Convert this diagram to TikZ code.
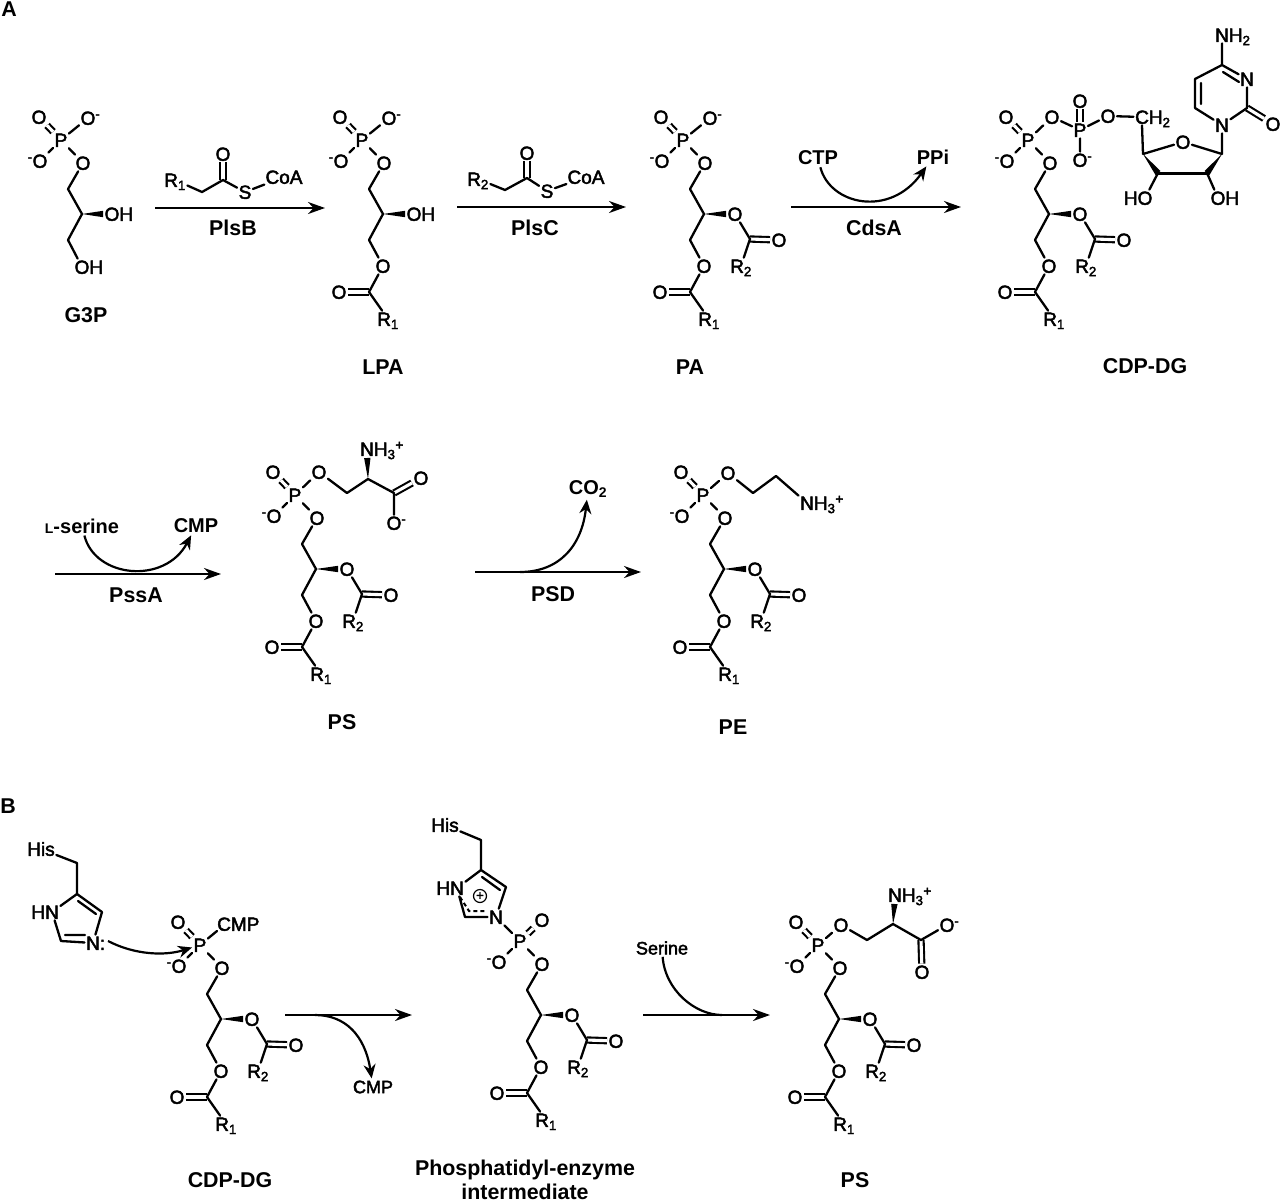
\documentclass[tikz,border=0pt]{standalone}
\usepackage{fontspec}
\setmainfont{Liberation Sans}
\newfontfamily\atomfont[FakeBold=2.5]{Liberation Sans}
\usetikzlibrary{arrows.meta,calc}
\tikzset{x=1pt,y=-1pt,
    bond/.style={line width=2.3pt,line cap=round,line join=round},
    dbond/.style={line width=2.1pt,double,double distance=3.1pt},
    atom/.style={inner sep=1.4pt,text height=13.6pt,text depth=0pt,font=\atomfont\fontsize{19}{22}\selectfont},
    lab/.style={inner sep=1pt,align=center,font=\fontsize{21.4}{24.5}\selectfont\bfseries},
    reag/.style={inner sep=2pt,font=\fontsize{20}{24}\selectfont\bfseries},
    rxn/.style={line width=2.2pt,-{Stealth[length=17pt,width=12pt]}},
    curv/.style={line width=2.2pt,-{Stealth[length=14pt,width=12pt]}},
    }
\newcommand{\wedgebond}[3][0pt]{\fill ($(#2)$) -- ($($(#3)!#1!(#2)$)!3.2pt!90:(#2)$) -- ($($(#3)!#1!(#2)$)!3.2pt!-90:(#2)$) -- cycle;}
\newcommand{\Omin}{O\rlap{\textsuperscript{-}}}
\newcommand{\minO}{\llap{\textsuperscript{-}}O}
\newcommand{\Rone}{R\textsubscript{1}}
\newcommand{\Rtwo}{R\textsubscript{2}}
% phosphate and glycerol
\newcommand{\glycbone}[1][-22,-23]{
    \node[atom] (P) at (0,0) {P};
    \node[atom] (Oa) at (#1) {O};
    \node[atom] (Ob) at (-21,21) {\minO};
    \node[atom] (Oc) at (22,23) {O};
    \coordinate (C1) at (7,49);
    \coordinate (C2) at (21,74);
    \coordinate (C3) at (7,100);
    \draw[dbond] (P) -- (Oa);
    \draw[bond] (P) -- (Ob) (P) -- (Oc) (Oc) -- (C1) -- (C2) -- (C3);
}
\newcommand{\acylone}{
    \node[atom] (Od) at (21,126) {O};
    \coordinate (Ce) at (7,152);
    \node[atom] (Oe) at (-23,152) {O};
    \node[atom] (Rone) at (26,179) {\Rone};
    \draw[dbond] (Ce) -- (Oe);
    \draw[bond] (C3) -- (Od) (Od) -- (Ce) -- (Rone);
}
\newcommand{\acyltwo}{
    \node[atom] (Of) at (52,74) {O};
    \coordinate (Cg) at (67,99);
    \node[atom] (Og) at (96,100) {O};
    \node[atom] (Rtwo) at (58,126) {\Rtwo};
    \wedgebond[9pt]{C2}{Of}
    \draw[dbond] (Cg) -- (Og);
    \draw[bond] (Of) -- (Cg) -- (Rtwo);
}
\begin{document}
\begin{tikzpicture}
\useasboundingbox (0,0) rectangle (1280,1202);
\node[lab] (panA) at (9,9) {A};
\node[lab] (panB) at (8,806) {B};

\begin{scope}[shift={(61,140)},name prefix=gtp-]
    \glycbone
    \node[atom] (Oh) at (27,-22) {\Omin};
    \node[atom] (OHa) at (51,74) {O\rlap{H}};
    \node[atom] (OHb) at (21,127) {O\rlap{H}};
    \wedgebond[9pt]{C2}{OHa}
    \draw[bond] (P) -- (Oh) (C3) -- (OHb);
    \node[lab] (name) at (25,175) {G3P};
\end{scope}%G3P

\begin{scope}[shift={(362,140)},name prefix=lpa-]
    \glycbone \acylone
    \node[atom] (Oh) at (27,-22) {\Omin};
    \node[atom] (OHa) at (52,74) {O\rlap{H}};
    \wedgebond[9pt]{C2}{OHa}
    \draw[bond] (P) -- (Oh);
    \node[lab] (name) at (21,227) {LPA};
\end{scope}%LPA

\begin{scope}[shift={(683,140)},name prefix=pa-]
    \glycbone \acylone \acyltwo
    \node[atom] (Oh) at (27,-22) {\Omin};
    \draw[bond] (P) -- (Oh);
    \node[lab] (name) at (7,227) {PA};
\end{scope}%PA

\begin{scope}[shift={(1028,140)},name prefix=cdp-]
    \glycbone \acylone \acyltwo
    \node[atom] (Oh) at (24,-23) {O};
    \node[atom] (Pb) at (52,-10) {P};
    \node[atom] (Oi) at (52,-39) {O};
    \node[atom] (Oj) at (52,20) {\Omin};
    \node[atom] (Ok) at (80,-24) {O};
    \node[atom] (Cm) at (114,-23) {C\rlap{H\textsubscript{2}}};
    \coordinate (Cn) at (115,14);
    \node[atom] (Or) at (155,2) {O};
    \coordinate (Cq) at (194,14);
    \coordinate (Cp) at (179,33);
    \coordinate (Co) at (130,33);
    \node[atom] (HO) at (117,58) {\llap{H}O};
    \node[atom] (OH) at (190,58) {O\rlap{H}};
    \node[atom] (Na) at (194,-15) {N};
    \coordinate (Cs) at (219,-32);
    \node[atom] (Os) at (245,-16) {O};
    \node[atom] (Nb) at (219,-61) {N};
    \coordinate (Ct) at (194,-75);
    \node[atom] (Nc) at (194,-105) {N\rlap{H\textsubscript{2}}};
    \coordinate (Cu) at (167,-61);
    \coordinate (Cv) at (167,-32);
    \coordinate (ia) at (173,-57);
    \coordinate (ib) at (173,-36);
    \coordinate (ic) at (195,-68);
    \coordinate (id) at (211,-58);
    \draw[dbond] (Pb) -- (Oi);
    \draw[dbond] (Cs) -- (Os);
    \draw[bond] (P) -- (Oh) (Oh) -- (Pb) (Pb) -- (Oj) (Pb) -- (Ok) (Ok) -- (Cm);
    \draw[bond] (Cm.south) -- (Cn) (Cn) -- (Or) (Or) -- (Cq) (Cq) -- (Na);
    \draw[bond] (Na) -- (Cs) -- (Nb) (Nb) -- (Ct) -- (Cu) -- (Cv) -- (Na) (Ct) -- (Nc);
    \draw[bond] (ia) -- (ib) (ic) -- (id) (Co) -- (HO) (Cp) -- (OH);
    \draw[line width=3pt,line cap=round] (Co) -- (Cp);
    \wedgebond{Cn}{Co}
    \wedgebond{Cq}{Cp}
    \node[lab] (name) at (117,226) {CDP-DG};
\end{scope}%CDP-DG

\begin{scope}[shift={(295,495)},name prefix=ps-]
    \glycbone \acylone \acyltwo
    \node[atom] (Oh) at (24,-23) {O};
    \coordinate (Ci) at (52,-2);
    \coordinate (Cj) at (73,-16);
    \node[atom] (Nh) at (72,-46) {N\rlap{H\textsubscript{3}\textsuperscript{+}}};
    \coordinate (Ck) at (99,-2);
    \node[atom] (Om) at (126,-17) {O};
    \node[atom] (On) at (99,28) {\Omin};
    \wedgebond[9pt]{Cj}{Nh}
    \draw[dbond] (Ck) -- (Om);
    \draw[bond] (P) -- (Oh) (Oh) -- (Ci) -- (Cj) -- (Ck) -- (On);
    \node[lab] (name) at (47,227) {PS};
\end{scope}%PS

\begin{scope}[shift={(703,495)},name prefix=pe-]
    \glycbone \acylone \acyltwo
    \node[atom] (Oh) at (25,-22) {O};
    \coordinate (Ci) at (50,-2);
    \coordinate (Cj) at (73,-19);
    \node[atom] (Nh) at (104,8) {N\rlap{H\textsubscript{3}\textsuperscript{+}}};
    \draw[bond] (P) -- (Oh) (Oh) -- (Ci) -- (Cj) -- (Nh);
    \node[lab] (name) at (30,232) {PE};
\end{scope}%PE

\begin{scope}[shift={(200,945)},name prefix=dg-]
    \glycbone \acylone \acyltwo
    \node[atom,anchor=west,inner sep=0pt] (Cmp) at (17,-21) {CMP};
    \draw[bond] (P) -- (Cmp.south west);
    \node[lab] (name) at (30,235) {CDP-DG};
\end{scope}%CDP-DG

\begin{scope}[name prefix=ha-]
    \node[atom] (His) at (41,849) {His};
    \coordinate (Ca) at (77,863);
    \coordinate (Cb) at (77,894);
    \coordinate (Cc) at (102,912);
    \node[atom] (Na) at (93,943) {N\rlap{:}};
    \coordinate (Cd) at (61,941);
    \node[atom] (Nb) at (52,912) {\llap{H}N};
    \coordinate (ia) at (78,901);
    \coordinate (ib) at (96,914);
    \coordinate (ic) at (65,935);
    \coordinate (id) at (85,935);
    \draw[bond] (His) -- (Ca) -- (Cb) -- (Cc) -- (Na) (Na) -- (Cd) -- (Nb) (Nb) -- (Cb);
    \draw[bond] (ia) -- (ib) (ic) -- (id);
    \coordinate (lone) at (108,941);
\end{scope}%His
\draw[curv] (ha-lone) .. controls (135,955) and (165,956) .. (dg-P);

\begin{scope}[shift={(520,941)},name prefix=pi-]
    \glycbone[22,-21] \acylone \acyltwo
    \node[atom] (His) at (-75,-116) {His};
    \coordinate (Ca) at (-39,-101);
    \coordinate (Cb) at (-39,-71);
    \coordinate (Cc) at (-14,-54);
    \node[atom] (Na) at (-24,-24) {N};
    \coordinate (Cd) at (-55,-24);
    \node[atom] (Nb) at (-63,-53) {\llap{H}N};
    \coordinate (ia) at (-38,-64);
    \coordinate (ib) at (-20,-51);
    \coordinate (ic) at (-60,-44);
    \coordinate (id) at (-51,-30);
    \coordinate (ie) at (-33,-30);
    \node[draw,circle,line width=1.2pt,inner sep=0pt,minimum size=13pt,font=\atomfont\fontsize{13}{13}\selectfont] (plus) at (-40,-45) {+};
    \draw[bond] (His) -- (Ca) -- (Cb) -- (Cc) -- (Na) (Na) -- (Cd) -- (Nb) (Nb) -- (Cb) (Na) -- (P);
    \draw[bond] (ia) -- (ib);
    \draw[line width=2pt,dash pattern=on 4pt off 3pt] (ic) -- (id) -- (ie);
    \node[lab] (name) at (5,239) {Phosphatidyl-enzyme\\intermediate};
\end{scope}%intermediate

\begin{scope}[shift={(818,945)},name prefix=pb-]
    \glycbone \acylone \acyltwo
    \node[atom] (Oh) at (23,-20) {O};
    \coordinate (Ci) at (49,-5);
    \coordinate (Cj) at (75,-21);
    \node[atom] (Nh) at (77,-50) {N\rlap{H\textsubscript{3}\textsuperscript{+}}};
    \coordinate (Ck) at (103,-5);
    \node[atom] (On) at (129,-20) {\Omin};
    \node[atom] (Om) at (104,27) {O};
    \wedgebond[9pt]{Cj}{Nh}
    \draw[dbond] (Ck) -- (Om);
    \draw[bond] (P) -- (Oh) (Oh) -- (Ci) -- (Cj) -- (Ck) -- (On);
    \node[lab] (name) at (37,235) {PS};
\end{scope}%PS

% thioesters over the first two arrows
\begin{scope}[shift={(175,180)},name prefix=ta-]
    \node[atom] (R) at (0,0) {\Rone};
    \coordinate (Ca) at (27,12);
    \coordinate (Cb) at (48,0);
    \node[atom] (O) at (48,-26) {O};
    \node[atom] (S) at (70,12) {S};
    \node[atom,inner sep=1pt] (CoA) at (109,-3) {CoA};
    \draw[dbond] (Cb) -- (O);
    \draw[bond] (R) -- (Ca) -- (Cb) -- (S) (S) -- (CoA);
\end{scope}
\begin{scope}[shift={(478,179)},name prefix=tb-]
    \node[atom] (R) at (0,0) {\Rtwo};
    \coordinate (Ca) at (27,11);
    \coordinate (Cb) at (49,-1);
    \node[atom] (O) at (49,-26) {O};
    \node[atom] (S) at (69,12) {S};
    \node[atom,inner sep=1pt] (CoA) at (108,-2) {CoA};
    \draw[dbond] (Cb) -- (O);
    \draw[bond] (R) -- (Ca) -- (Cb) -- (S) (S) -- (CoA);
\end{scope}

% reaction arrows
\coordinate (a1s) at (155,208); \coordinate (a1e) at (325,208);
\coordinate (a2s) at (457,207); \coordinate (a2e) at (626,207);
\coordinate (a3s) at (791,207); \coordinate (a3e) at (961,207);
\coordinate (a4s) at (55,574);  \coordinate (a4e) at (221,574);
\coordinate (a5s) at (475,572); \coordinate (a5e) at (641,572);
\coordinate (a6s) at (285,1015); \coordinate (a6e) at (412,1015);
\coordinate (a7s) at (643,1015); \coordinate (a7e) at (770,1015);
\foreach \s/\e in {a1s/a1e,a2s/a2e,a3s/a3e,a4s/a4e,a5s/a5e,a6s/a6e,a7s/a7e}
    \draw[rxn] (\s) -- (\e);

\node[lab] (plsb) at (233,228) {PlsB};
\node[lab] (plsc) at (535,228) {PlsC};
\node[lab] (cdsa) at (874,228) {CdsA};
\node[lab] (pssa) at (136,595) {PssA};
\node[lab] (psd) at (553,594) {PSD};

\node[reag] (ctp) at (818,158) {CTP};
\node[reag] (ppi) at (933,157) {PPi};
\draw[curv] (ctp) .. controls (830,205) and (890,218) .. (ppi);

\node[reag] (ser) at (82,526) {{\fontsize{14}{14}\selectfont L}-serine};
\node[reag] (cmpa) at (196,526) {CMP};
\draw[curv] (ser) .. controls (95,578) and (165,585) .. (cmpa);

\node[reag] (co2) at (588,489) {CO\textsubscript{2}};
\coordinate (co2s) at (520,572);
\draw[curv] (co2s) .. controls (560,572) and (582,545) .. (co2);

\node[reag,font=\atomfont\fontsize{18}{20}\selectfont] (cmpb) at (373,1087) {CMP};
\coordinate (cmps) at (315,1015);
\draw[curv] (cmps) .. controls (345,1015) and (365,1035) .. (cmpb);

\node[reag,font=\atomfont\fontsize{18}{20}\selectfont] (serb) at (662,948) {Serine};
\coordinate (sere) at (722,1015);
\draw[line width=2.2pt] (serb) .. controls (665,990) and (695,1015) .. (sere);
\end{tikzpicture}
\end{document}
